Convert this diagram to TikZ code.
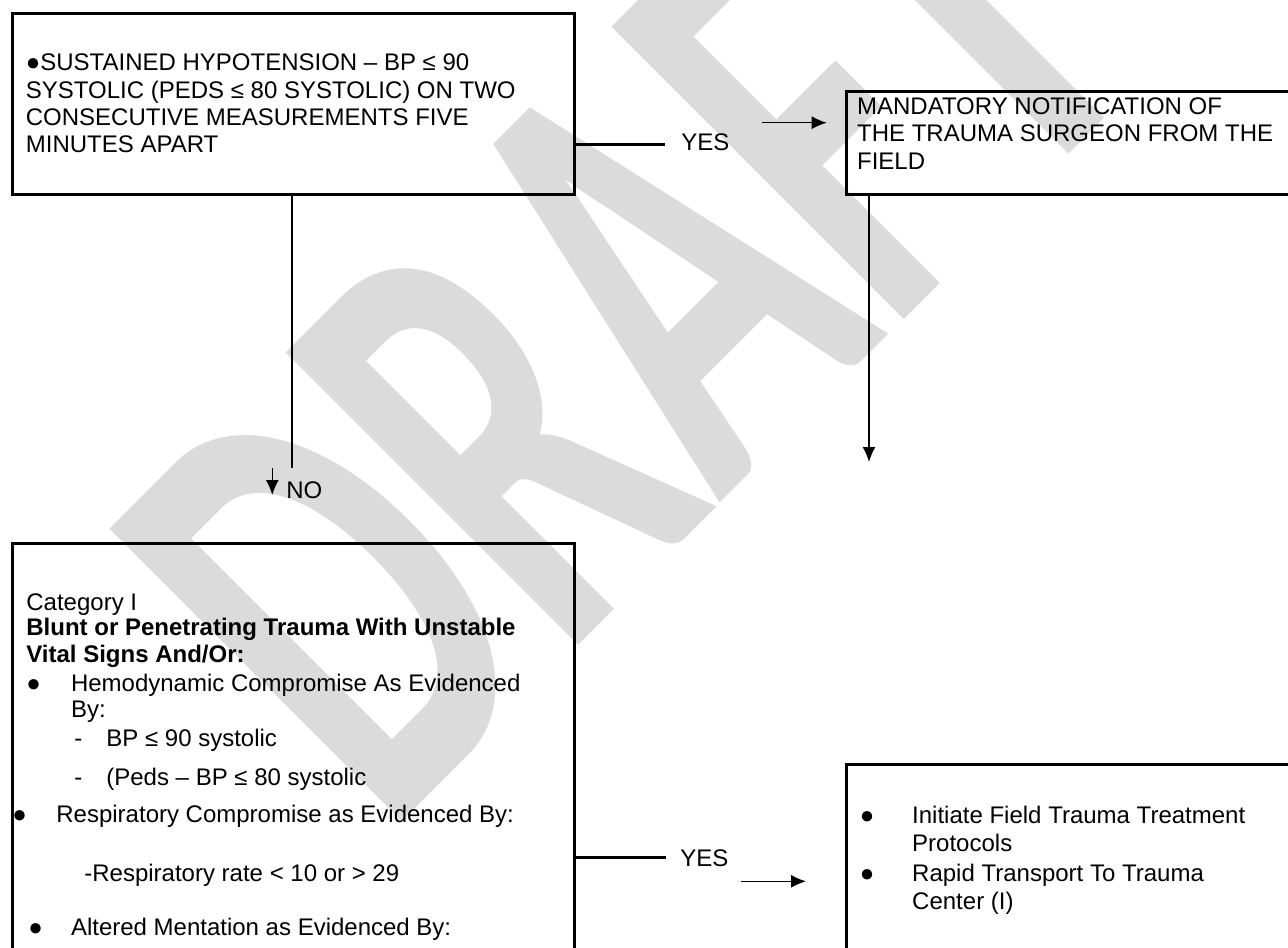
\documentclass[tikz,border=0pt]{standalone}
\usepackage{fontspec}
\setmainfont{Liberation Sans}
\newfontfamily\wmfont{Carlito}
\usetikzlibrary{arrows.meta}

\tikzset{
  box/.style={draw, line width=1.5pt, anchor=north west, inner sep=0pt},
  txt/.style={anchor=base west, inner sep=0pt, font=\fontsize{12pt}{13.8pt}\selectfont},
  bold/.style={txt, font=\fontsize{12pt}{13.8pt}\selectfont\bfseries},
  link/.style={line width=1.4pt},
  flow/.style={line width=0.7pt, -{Latex[length=7.5pt,width=6.5pt]}},
}

\begin{document}
\begin{tikzpicture}[x=0.5pt,y=-0.5pt]

    \useasboundingbox (0,0) rectangle (1288,947);
    \clip (0,0) rectangle (1288,947);
    \fill[white] (0,0) rectangle (1288,947);

    % watermark
    \node[rotate=45, xscale=0.62, text=black!14, inner sep=0pt,
          font=\fontsize{319pt}{319pt}\selectfont\wmfont\bfseries] (draft) at (625,306) {DRAFT};

    % boxes
    \node[box, minimum width=281pt, minimum height=90.5pt] (hypo) at (11,12) {};
    \node[box, minimum width=227.5pt, minimum height=51.5pt] (notify) at (845,90) {};
    \node[box, minimum width=281pt, minimum height=228.85pt] (catI) at (11,542.3) {};
    \node[box, minimum width=227.5pt, minimum height=118.35pt] (field) at (845,763.3) {};

    % top left box
    \foreach \t [count=\i] in {●SUSTAINED HYPOTENSION – BP ≤ 90,
        SYSTOLIC (PEDS ≤ 80 SYSTOLIC) ON TWO,
        CONSECUTIVE MEASUREMENTS FIVE, MINUTES APART}
        \node[txt] (hypo-\i) at (25.5,{70.7+27.3*(\i-1)}) {\t};

    % top right box
    \foreach \t [count=\i] in {MANDATORY NOTIFICATION OF,
        THE TRAUMA SURGEON FROM THE, FIELD}
        \node[txt] (notify-\i) at (856.7,{114+27.5*(\i-1)}) {\t};

    % category box
    \node[txt] (cat-1) at (26,610.7) {Category I};
    \node[bold] (cat-2) at (26,635.7) {Blunt or Penetrating Trauma With Unstable};
    \node[bold] (cat-3) at (26,662.3) {Vital Signs And/Or:};
    \node[txt] (dot-1) at (26,691.3) {●};
    \node[txt] (cat-4) at (70.6,691.3) {Hemodynamic Compromise As Evidenced};
    \node[txt] (cat-5) at (70.6,717.3) {By:};
    \node[txt] (dash-1) at (74,746.7) {-};
    \node[txt] (cat-6) at (106,746.7) {BP ≤ 90 systolic};
    \node[txt] (dash-2) at (74,785.7) {-};
    \node[txt] (cat-7) at (106,785.7) {(Peds – BP ≤ 80 systolic};
    \node[txt] (dot-2) at (12,822.3) {●};
    \node[txt] (cat-8) at (56,822.3) {Respiratory Compromise as Evidenced By:};
    \node[txt] (cat-9) at (84,881.3) {-Respiratory rate < 10 or > 29};
    \node[txt] (dot-3) at (28,935.7) {●};
    \node[txt] (cat-10) at (70.6,935.7) {Altered Mentation as Evidenced By:};

    % field box
    \node[txt] (dot-4) at (859.5,823.3) {●};
    \node[txt] (field-1) at (911.8,823.3) {Initiate Field Trauma Treatment};
    \node[txt] (field-2) at (911.8,851.3) {Protocols};
    \node[txt] (dot-5) at (859.5,881.3) {●};
    \node[txt] (field-3) at (911.8,881.3) {Rapid Transport To Trauma};
    \node[txt] (field-4) at (911.8,909) {Center (I)};

    % labels
    \node[txt] (yesA) at (681,150.7) {YES};
    \node[txt] (no) at (286,498.3) {NO};
    \node[txt] (yesB) at (680,866.7) {YES};

    % free ends of the short arrows
    \coordinate (yA1) at (761.7,122.7);
    \coordinate (yA2) at (826.7,122.7);
    \coordinate (no1) at (272.3,467.7);
    \coordinate (no2) at (272.3,495);
    \coordinate (down) at (869,462);
    \coordinate (yB1) at (740.5,881.3);
    \coordinate (yB2) at (806,881.3);

    % connectors
    \draw[link] (hypo.south east) ++(0,-51.3) -- ++(89,0);
    \draw[link] (hypo.south west) ++(281,0) -- ++(0,272);
    \draw[flow] (yA1) -- (yA2);
    \draw[flow] (no1) -- (no2);
    \draw[flow, line width=0.8pt] (notify.south west) ++(24,0) -- (down);
    \draw[link] (catI.north east) ++(0,315) -- ++(89.5,0);
    \draw[flow] (yB1) -- (yB2);

\end{tikzpicture}
\end{document}
